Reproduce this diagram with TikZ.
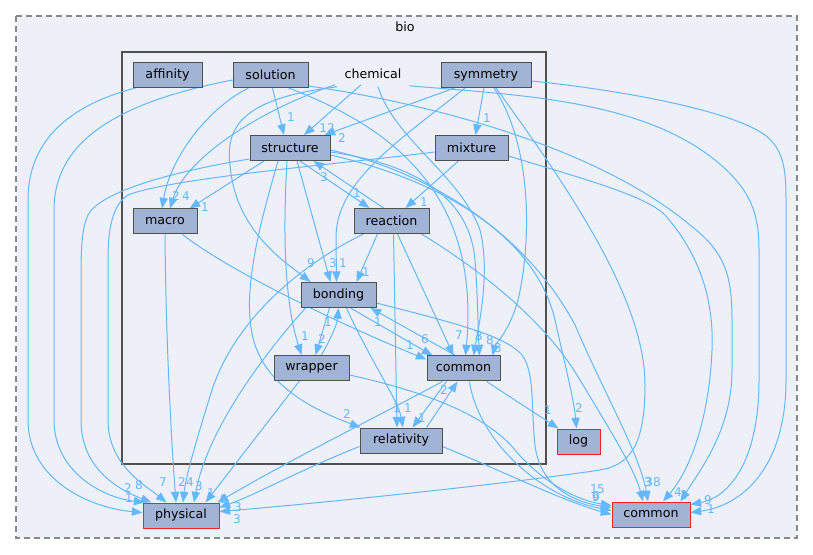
\documentclass[tikz,border=0pt]{standalone}
\usepackage{fontspec}
\setmainfont{DejaVu Sans}
\usetikzlibrary{arrows.meta,calc}
\definecolor{nodefill}{HTML}{A2B4D6}
\definecolor{nodeborder}{HTML}{505050}
\definecolor{edgec}{HTML}{63B8FF}
\definecolor{clusterfill}{HTML}{EDF0F7}
\definecolor{dashc}{HTML}{888888}
\definecolor{redborder}{HTML}{FF2020}
\pgfdeclarelayer{bg}
\pgfdeclarelayer{edgelayer}
\pgfsetlayers{bg,edgelayer,main}
\begin{document}
\begin{tikzpicture}[x=0.75pt,y=-0.75pt,
  dnode/.style={draw=nodeborder,fill=nodefill,line width=0.75pt,minimum height=18.75pt,inner sep=0pt,font=\fontsize{9.5}{11}\selectfont},
  rnode/.style={dnode,draw=redborder},
  dep/.style={draw=edgec,line width=0.75pt,-{Triangle[length=8pt,width=6.2pt]}},
  lbl/.style={text=edgec,font=\fontsize{9}{10}\selectfont,inner sep=0pt}]
\useasboundingbox (0,0) rectangle (813,555);
\begin{pgfonlayer}{bg}
\fill[white] (0,0) rectangle (813,555);
\draw[dashc,line width=0.8pt,dash pattern=on 4.5pt off 3pt,fill=clusterfill] (16,16) rectangle (797,538);
\draw[nodeborder,line width=1.5pt,fill=clusterfill] (122,52) rectangle (546,464);
\end{pgfonlayer}
\node[font=\fontsize{9.5}{11}\selectfont] (biolbl) at (405,27) {bio};
\node[font=\fontsize{9.5}{11}\selectfont,inner sep=2pt] (chem) at (373,74) {chemical};
\node[dnode,minimum width=51.75pt] (aff) at (167.5,75) {affinity};
\node[dnode,minimum width=56.25pt] (sol) at (270.5,75) {solution};
\node[dnode,minimum width=67.5pt] (sym) at (486,75) {symmetry};
\node[dnode,minimum width=60pt] (str) at (290,148) {structure};
\node[dnode,minimum width=54.75pt] (mix) at (471.5,148) {mixture};
\node[dnode,minimum width=48pt] (mac) at (165,221.5) {macro};
\node[dnode,minimum width=56.25pt] (rea) at (391.5,221) {reaction};
\node[dnode,minimum width=56.25pt] (bon) at (338.5,295) {bonding};
\node[dnode,minimum width=56.25pt] (wra) at (311.5,368) {wrapper};
\node[dnode,minimum width=54.75pt] (cin) at (463.5,368.5) {common};
\node[dnode,minimum width=61.5pt] (rel) at (401,440.5) {relativity};
\node[rnode,minimum width=32.25pt] (log) at (578.5,441.5) {log};
\node[rnode,minimum width=57pt] (phy) at (181,515.5) {physical};
\node[rnode,minimum width=58.5pt] (cout) at (651,514.5) {common};
\begin{pgfonlayer}{edgelayer}
% into physical
\draw[dep] ($(aff.south west)+(3,0)$) .. controls (70,105) and (28,140) .. (28,200) -- (28,420) .. controls (28,480) and (90,508) .. ($(phy.west)+(0,-3)$) node[lbl] (l1) at (129,498) {1};
\draw[dep] ($(sol.west)+(0,5)$) .. controls (130,100) and (54,135) .. (54,210) -- (54,420) .. controls (54,470) and (100,497) .. ($(phy.north west)+(2,0)$) node[lbl] (l2) at (128,488) {2};
\draw[dep] ($(str.south west)+(0,-2)$) .. controls (170,172) and (100,192) .. (88,215) .. controls (82,228) and (81,245) .. (81,280) -- (81,420) .. controls (81,470) and (120,490) .. ($(phy.north west)+(9,0)$) node[lbl] (l3) at (139,485) {8};
\draw[dep] ($(mix.west)+(0,4)$) .. controls (350,163) and (170,178) .. (128,195) .. controls (112,205) and (108,230) .. (108,260) -- (108,420) .. controls (108,465) and (145,485) .. ($(phy.north west)+(24,0)$) node[lbl] (l4) at (163,482) {7};
\draw[dep] (mac.south) .. controls (166,350) and (172,450) .. ($(phy.north)+(-5,0)$) node[lbl] (l5) at (182,482) {2};
\draw[dep] ($(rea.south west)+(10,0)$) .. controls (300,265) and (235,320) .. (212,390) .. controls (198,435) and (186,475) .. ($(phy.north)+(2,0)$) node[lbl] (l6) at (190,482) {4};
\draw[dep] ($(bon.south west)+(5,0)$) .. controls (250,370) and (205,440) .. ($(phy.north)+(13,0)$) node[lbl] (l7) at (199,486) {3};
\draw[dep] ($(wra.south west)+(26,0)$) -- ($(phy.north east)+(-14,0)$) node[lbl] (l8) at (211,493) {1};
\draw[dep] ($(cin.south west)+(16,0)$) .. controls (380,415) and (290,460) .. ($(phy.north east)+(-2,0)$) node[lbl] (l9) at (224,499) {9};
\draw[dep] ($(rel.west)+(0,6)$) .. controls (300,470) and (255,495) .. ($(phy.east)+(0,-8)$) node[lbl] (l10) at (238,507) {3};
\draw[dep] ($(sym.south)+(10,0)$) .. controls (570,190) and (645,300) .. (645,385) .. controls (645,445) and (630,465) .. (600,470) .. controls (500,485) and (300,505) .. ($(phy.east)+(0,-4)$) node[lbl] (l11) at (237,519) {3};
% upper part
\draw[dep] ($(sol.south)+(2,0)$) -- ($(str.north)+(-6,0)$) node[lbl] (l12) at (291,117) {1};
\draw[dep] ($(sol.south)+(-22,0)$) .. controls (205,110) and (170,160) .. ($(mac.north)+(-3,0)$) node[lbl] (l13) at (176,196) {2};
\draw[dep] ($(chem.south)+(-38,3)$) .. controls (255,112) and (185,160) .. ($(mac.north)+(5,0)$) node[lbl] (l14) at (186,196) {4};
\draw[dep] ($(str.south)+(-26,0)$) -- ($(mac.north east)+(-8,0)$) node[lbl] (l15) at (205,207) {1};
\draw[dep] ($(chem.south)+(-12,3)$) -- ($(str.north)+(14,0)$) node[lbl] (l16) at (327,128) {12};
\draw[dep] ($(sym.south west)+(14,0)$) -- ($(str.north east)+(-6,0)$) node[lbl] (l17) at (342,138) {2};
\draw[dep] ($(sym.south)+(-2,0)$) -- ($(mix.north)+(4,0)$) node[lbl] (l18) at (487,118) {1};
\draw[dep] ($(str.south)+(10,0)$) -- ($(rea.north west)+(16,0)$) node[lbl] (l19) at (357,193) {1};
\draw[dep] ($(rea.north west)+(30,0)$) -- ($(str.south east)+(-17,0)$) node[lbl] (l20) at (324,177) {3};
\draw[dep] ($(mix.south)+(-13,0)$) -- ($(rea.north east)+(-24,0)$) node[lbl] (l21) at (424,202) {1};
% into bonding
\draw[dep] ($(str.south)+(7,0)$) -- ($(bon.north)+(-8,0)$) node[lbl] (l22) at (333,263) {3};
\draw[dep] ($(sym.south)+(-21,0)$) .. controls (400,140) and (338,180) .. (336,235) -- ($(bon.north)+(-2,0)$) node[lbl] (l23) at (343,263) {1};
\draw[dep] ($(chem.south)+(-36,5)$) .. controls (245,98) and (225,125) .. (230,165) .. controls (235,230) and (285,262) .. ($(bon.north west)+(10,0)$) node[lbl] (l24) at (311,263) {9};
\draw[dep] ($(rea.south west)+(24,0)$) -- ($(bon.north east)+(-20,0)$) node[lbl] (l25) at (366,272) {1};
% wrapper
\draw[dep] ($(str.south)+(-3,0)$) .. controls (283,230) and (284,300) .. ($(wra.north)+(-10,0)$) node[lbl] (l26) at (305,336) {1};
\draw[dep] ($(bon.south)+(-9,0)$) -- ($(wra.north)+(4,0)$) node[lbl] (l27) at (322,339) {2};
\draw[dep] ($(wra.north)+(10,0)$) .. controls (330,340) and (337,325) .. (bon.south) node[lbl] (l28) at (328,322) {1};
% relativity
\draw[dep] ($(str.south)+(-12,0)$) .. controls (258,230) and (240,300) .. (255,345) .. controls (270,390) and (320,412) .. ($(rel.north west)+(1,0)$) node[lbl] (l29) at (347,414) {2};
\draw[dep] ($(rea.south)+(2,0)$) -- ($(rel.north)+(-4,0)$) node[lbl] (l30) at (397,408) {1};
\draw[dep] ($(bon.south)+(8,0)$) .. controls (370,360) and (398,400) .. ($(rel.north)+(2,0)$) node[lbl] (l31) at (408,408) {1};
\draw[dep] ($(cin.south west)+(20,0)$) -- ($(rel.north east)+(-30,0)$) node[lbl] (l32) at (422,418) {1};
\draw[dep] ($(rel.north east)+(-16,0)$) -- ($(cin.south)+(-6,0)$) node[lbl] (l33) at (444,390) {2};
% into inner common
\draw[dep] ($(mac.south east)+(-15,0)$) .. controls (225,268) and (330,320) .. ($(cin.west)+(0,-9)$) node[lbl] (l34) at (410,345) {1};
\draw[dep] ($(bon.south)+(12,0)$) -- ($(cin.north west)+(6,0)$) node[lbl] (l35) at (425,339) {6};
\draw[dep] ($(cin.north)+(-8,0)$) -- ($(bon.south east)+(-6,0)$) node[lbl] (l36) at (378,322) {1};
\draw[dep] ($(rea.south)+(6,0)$) -- ($(cin.north)+(-10,0)$) node[lbl] (l37) at (459,335) {7};
\draw[dep] ($(sol.south east)+(-20,0)$) .. controls (400,130) and (480,200) .. ($(cin.north)+(2,0)$) node[lbl] (l38) at (477,335) {7};
\draw[dep] ($(chem.south)+(5,5)$) .. controls (395,140) and (460,175) .. (480,230) .. controls (490,270) and (480,320) .. ($(cin.north)+(10,0)$) node[lbl] (l39) at (479,336) {3};
\draw[dep] ($(str.east)+(0,4)$) .. controls (420,165) and (470,200) .. (475,260) .. controls (478,300) and (478,330) .. ($(cin.north)+(16,0)$) node[lbl] (l40) at (490,340) {8};
\draw[dep] ($(sym.south)+(8,0)$) .. controls (535,150) and (530,250) .. (518,300) .. controls (510,330) and (495,345) .. ($(cin.north east)+(-8,0)$) node[lbl] (l41) at (498,348) {3};
% log
\draw[dep] ($(cin.south east)+(-14,0)$) -- ($(log.north west)+(2,0)$) node[lbl] (l42) at (548,410) {1};
\draw[dep] ($(str.east)+(0,7)$) .. controls (440,180) and (535,235) .. (555,320) .. controls (565,365) and (574,400) .. ($(log.north)+(-2,0)$) node[lbl] (l43) at (579,408) {2};
% into outer common
\draw[dep] ($(str.east)+(0,2)$) .. controls (440,175) and (530,240) .. (575,325) .. controls (605,395) and (640,455) .. ($(cout.north)+(-3,0)$) node[lbl] (l44) at (653,482) {38};
\draw[dep] ($(rea.south east)+(-8,0)$) .. controls (480,270) and (545,320) .. (580,380) .. controls (610,430) and (635,470) .. ($(cout.north)+(-8,0)$) node[lbl] (l45) at (648,482) {3};
\draw[dep] ($(sol.south east)+(0,-2)$) .. controls (440,105) and (600,150) .. (690,225) .. controls (725,252) and (732,275) .. (732,320) -- (732,370) .. controls (732,430) and (700,470) .. ($(cout.north east)+(-10,0)$) node[lbl] (l46) at (684,495) {2};
\draw[dep] ($(mix.east)+(0,8)$) .. controls (580,178) and (645,195) .. (665,215) .. controls (700,255) and (714,300) .. (712,350) .. controls (709,420) and (690,470) .. ($(cout.north)+(12,0)$) node[lbl] (l47) at (678,492) {4};
\draw[dep] ($(chem.south east)+(5,4)$) .. controls (520,95) and (640,100) .. (715,160) .. controls (752,190) and (759,215) .. (759,250) -- (759,380) .. controls (759,460) and (730,497) .. ($(cout.north east)+(0,3)$) node[lbl] (l48) at (708,500) {9};
\draw[dep] ($(sym.east)+(0,6)$) .. controls (620,90) and (730,110) .. (765,135) .. controls (784,150) and (786,170) .. (786,200) -- (786,380) .. controls (786,470) and (740,506) .. ($(cout.east)+(0,-2)$) node[lbl] (l49) at (711,509) {1};
\draw[dep] ($(bon.east)+(0,8)$) .. controls (450,322) and (505,335) .. (522,355) .. controls (535,372) and (531,410) .. (535,445) .. controls (540,490) and (580,503) .. ($(cout.west)+(0,-7)$) node[lbl] (l50) at (601,489) {5};
\draw[dep] ($(wra.east)+(0,7)$) .. controls (440,395) and (490,420) .. (515,450) .. controls (540,480) and (575,500) .. ($(cout.west)+(0,-9)$) node[lbl] (l51) at (594,489) {1};
\draw[dep] ($(cin.south)+(6,0)$) .. controls (478,440) and (540,497) .. ($(cout.west)+(0,-4)$) node[lbl] (l52) at (596,496) {6};
\draw[dep] ($(rel.east)+(0,6)$) .. controls (500,470) and (560,500) .. (cout.west) node[lbl] (l53) at (596,497) {9};
\end{pgfonlayer}
\end{tikzpicture}
\end{document}
